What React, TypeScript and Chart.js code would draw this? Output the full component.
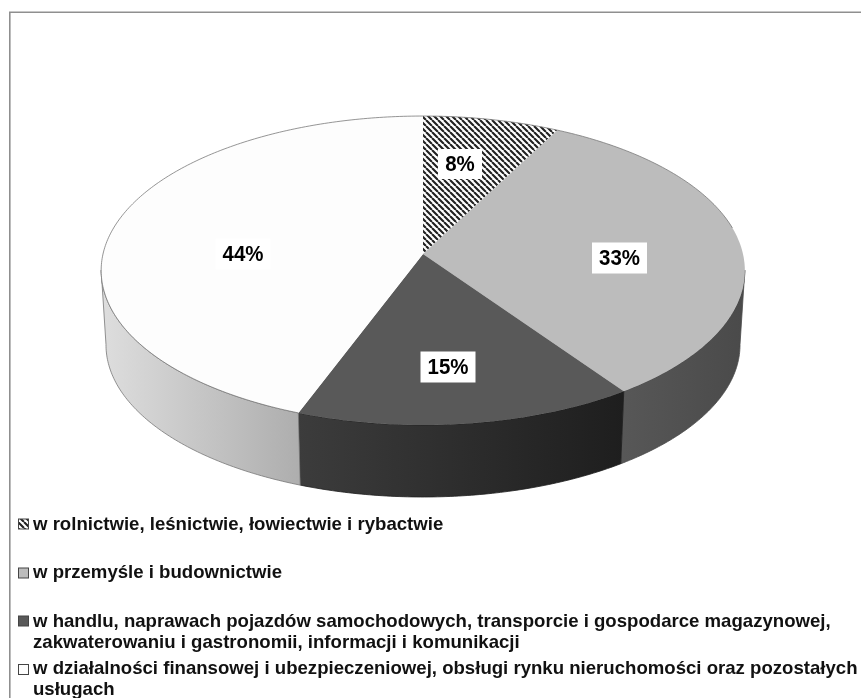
import React, { useEffect, useRef } from "react";
import { Chart, registerables } from "chart.js";

Chart.register(...registerables);

const categories = [
  "w rolnictwie, leśnictwie, łowiectwie i rybactwie",
  "w przemyśle i budownictwie",
  "w handlu, naprawach pojazdów samochodowych, transporcie i gospodarce magazynowej,|zakwaterowaniu i gastronomii, informacji i komunikacji",
  "w działalności finansowej i ubezpieczeniowej, obsługi rynku nieruchomości oraz pozostałych|usługach",
];
const shares = [7.6, 32.7, 15.4, 44.3];
const percentLabels = ["8%", "33%", "15%", "44%"];
const topColors = ["#000000", "#bcbcbc", "#595959", "#fdfdfd"];
const wallColors = [["#222", "#222"], ["#575757", "#4a4a4a"], ["#3c3c3c", "#1e1e1e"], ["#dedede", "#aeaeae"]];

const RX = 320, RY = 152.7, K = 0.1068, S = 0.985, DEPTH = 74.6;
const LABEL_POS = [[460, 164], [619.5, 258], [448, 367], [243, 254]];
const LABEL_BOX = [[44, 30], [55, 31], [55, 31], [55, 31]];
const LEGEND_Y = [525, 573, 622, 669];
const MARK_Y = [524, 573, 621, 669.5];
const LINE_H = 20.5;
const WALL_FROM = (96 * Math.PI) / 180, WALL_TO = (264 * Math.PI) / 180;

function hatch(ctx: CanvasRenderingContext2D) {
  const c = document.createElement("canvas");
  c.width = 6; c.height = 6;
  const g = c.getContext("2d")!;
  g.fillStyle = "#fff"; g.fillRect(0, 0, 6, 6);
  g.strokeStyle = "#222"; g.lineWidth = 2.1;
  g.beginPath();
  for (let i = -6; i <= 6; i += 6) { g.moveTo(i, 0); g.lineTo(i + 6, 6); }
  g.stroke();
  return ctx.createPattern(c, "repeat")!;
}

function rim(cx: number, cy: number, theta: number, bottom: boolean) {
  const u = Math.sin(theta), v = Math.cos(theta), w = 1 + K * v;
  const s = bottom ? S : 1;
  return [cx + s * RX * u / w, cy + (bottom ? DEPTH : 0) - s * RY * v / w];
}

const pie3d = {
  id: "pie3d",
  beforeDatasetDraw() { return false; },
  afterDatasetsDraw(chart: any) {
    const ctx: CanvasRenderingContext2D = chart.ctx;
    const arcs = chart.getDatasetMeta(0).data;
    const angles = arcs.map((a: any) => [a.startAngle + Math.PI / 2, a.endAngle + Math.PI / 2]);
    const cx = arcs[0].x, cy = arcs[0].y;
    const pat = hatch(ctx);
    ctx.save();
    // frame: only the top and left edges are inside the picture
    ctx.strokeStyle = "#8f8f8f"; ctx.lineWidth = 1.6;
    ctx.beginPath();
    ctx.moveTo(861, 12.2);
    ctx.lineTo(9.8, 12.2);
    ctx.lineTo(9.8, 698);
    ctx.stroke();
    // walls
    arcs.forEach((_: any, i: number) => {
      const a = Math.max(angles[i][0], WALL_FROM);
      const b = Math.min(angles[i][1], WALL_TO);
      if (b <= a) return;
      const n = 80;
      ctx.beginPath();
      for (let j = 0; j <= n; j++) {
        const p = rim(cx, cy, a + ((b - a) * j) / n, false);
        j ? ctx.lineTo(p[0], p[1]) : ctx.moveTo(p[0], p[1]);
      }
      for (let j = n; j >= 0; j--) {
        const p = rim(cx, cy, a + ((b - a) * j) / n, true);
        ctx.lineTo(p[0], p[1]);
      }
      ctx.closePath();
      const x0 = rim(cx, cy, b, false)[0], x1 = rim(cx, cy, a, false)[0];
      const gr = ctx.createLinearGradient(x0, 0, x1, 0);
      gr.addColorStop(0, wallColors[i][0]);
      gr.addColorStop(1, wallColors[i][1]);
      ctx.fillStyle = gr;
      ctx.fill();
      ctx.strokeStyle = i === 3 ? "#777" : wallColors[i][1];
      ctx.lineWidth = 0.8;
      ctx.stroke();
    });
    // tops
    arcs.forEach((_: any, i: number) => {
      const [a, b] = angles[i];
      const n = 120;
      ctx.beginPath();
      ctx.moveTo(cx, cy);
      for (let j = 0; j <= n; j++) {
        const p = rim(cx, cy, a + ((b - a) * j) / n, false);
        ctx.lineTo(p[0], p[1]);
      }
      ctx.closePath();
      ctx.fillStyle = i === 0 ? pat : topColors[i];
      ctx.fill();
    });
    // thin outline round the far part of the rim and the white slice
    ctx.beginPath();
    const outlineFrom = angles[3][0], outlineTo = 2 * Math.PI + (80 * Math.PI) / 180;
    for (let j = 0; j <= 300; j++) {
      const p = rim(cx, cy, outlineFrom + ((outlineTo - outlineFrom) * j) / 300, false);
      j ? ctx.lineTo(p[0], p[1]) : ctx.moveTo(p[0], p[1]);
    }
    ctx.strokeStyle = "#7a7a7a"; ctx.lineWidth = 0.8;
    ctx.stroke();
    // percent labels
    ctx.textBaseline = "middle"; ctx.textAlign = "center";
    percentLabels.forEach((t, i) => {
      const [x, y] = LABEL_POS[i], [w, h] = LABEL_BOX[i];
      ctx.fillStyle = "#fff";
      ctx.fillRect(x - w / 2, y - h / 2, w, h);
      ctx.fillStyle = "#000";
      ctx.save();
      ctx.translate(x, y + 1);
      ctx.scale(0.93, 1);
      ctx.font = "bold 22px 'Liberation Sans'";
      ctx.fillText(t, 0, 0);
      ctx.restore();
    });
    // legend
    ctx.textAlign = "left";
    chart.data.labels.forEach((label: string, i: number) => {
      const y = LEGEND_Y[i], my = MARK_Y[i];
      ctx.fillStyle = i === 0 ? pat : topColors[i];
      ctx.fillRect(18.5, my - 5, 10, 10);
      ctx.strokeStyle = "#444"; ctx.lineWidth = 1;
      ctx.strokeRect(18.5, my - 5, 10, 10);
      label.split("|").forEach((line, k) => {
        ctx.font = "bold 18.6px 'Liberation Sans'";
        ctx.fillStyle = "#111";
        ctx.fillText(line, 33, y + k * LINE_H);
      });
    });
    ctx.restore();
  },
};

export default function App() {
  const ref = useRef<HTMLCanvasElement>(null);
  useEffect(() => {
    const chart = new Chart(ref.current!, {
      type: "pie",
      data: { labels: categories, datasets: [{ data: shares, backgroundColor: topColors, borderWidth: 0 }] },
      options: {
        responsive: false,
        animation: false,
        layout: { padding: { left: 0, right: 15, top: 0, bottom: 190 } },
        plugins: { legend: { display: false }, tooltip: { enabled: false } },
      },
      plugins: [pie3d],
    } as any);
    return () => chart.destroy();
  }, []);
  return (
    <div style={{ position: "absolute", left: 0, top: 0 }}>
      <canvas ref={ref} width={861} height={698} style={{ display: "block", width: 861, height: 698 }} />
    </div>
  );
}
